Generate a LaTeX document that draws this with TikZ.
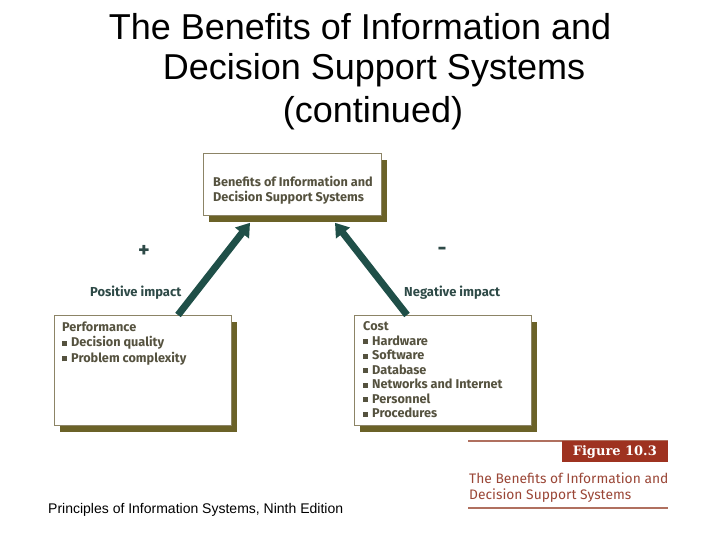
\documentclass[tikz,border=0pt]{standalone}
\usepackage{fontspec}
\setmainfont{Liberation Sans}
\newfontfamily\boxfont{Fira Sans}
\newfontfamily\figfont{DejaVu Serif}
\usetikzlibrary{arrows.meta,shadows,calc}
\definecolor{olivesh}{HTML}{6B6228}
\definecolor{boxline}{HTML}{8C8466}
\definecolor{boxtxt}{HTML}{55523F}
\definecolor{teal}{HTML}{1F4F48}
\definecolor{tealtxt}{HTML}{2E4A47}
\definecolor{figred}{HTML}{9E3220}
\definecolor{figtxt}{HTML}{9A4636}
\definecolor{figline}{HTML}{B0705F}
\newcommand\mybsq{\rule[1pt]{5pt}{5pt}\hspace{4pt}}
\begin{document}
\begin{tikzpicture}[x=1pt,y=-1pt,
  panel/.style={draw=boxline, line width=0.8pt, fill=white, anchor=north west,
    inner sep=0pt, general shadow={fill=olivesh, shadow xshift=6pt, shadow yshift=-7pt}},
  paneltext/.style={anchor=north west, align=left, inner sep=0pt, font=\boxfont\bfseries\fontsize{12.7}{14.5}\selectfont, text=boxtxt},
  bigarrow/.style={draw=teal, line width=7pt, -{Triangle[length=13pt,width=17pt]}},
  impact/.style={font=\boxfont\bfseries\fontsize{13}{15}\selectfont, text=tealtxt, inner sep=0pt},
  sign/.style={font=\boxfont\bfseries\fontsize{22}{22}\selectfont, text=tealtxt, inner sep=0pt},
  titletxt/.style={font=\fontsize{36}{40}\selectfont, inner sep=0pt}
]
\useasboundingbox (0,0) rectangle (720,540);
% title
\node[titletxt] (t1) at (360,27) {The Benefits of Information and};
\node[titletxt] (t2) at (374,70) {Decision Support Systems};
\node[titletxt] (t3) at (373,113) {(continued)};
% boxes
\node[panel, minimum width=178pt, minimum height=62pt] (tbox) at (203,153) {};
\node[panel, minimum width=177pt, minimum height=110pt] (lbox) at (54,315) {};
\node[panel, minimum width=177pt, minimum height=110pt] (rbox) at (354,315) {};
% box texts
\node[paneltext] (ttxt) at (213,176.5) {Benefits of Information and\\Decision Support Systems};
\node[paneltext, font=\boxfont\bfseries\fontsize{12.7}{15.5}\selectfont] (ltxt) at (62,321.5) {Performance\\\mybsq Decision quality\\\mybsq Problem complexity};
\node[paneltext] (rtxt) at (363,321.5) {Cost\\\mybsq Hardware\\\mybsq Software\\\mybsq Database\\\mybsq Networks and Internet\\\mybsq Personnel\\\mybsq Procedures};
% arrows
\coordinate (la) at ([xshift=124pt]lbox.north west);
\coordinate (lb) at ([xshift=47pt,yshift=-7pt]tbox.south west);
\coordinate (ra) at ([xshift=53pt]rbox.north west);
\coordinate (rb) at ([xshift=132pt,yshift=-7pt]tbox.south west);
\draw[bigarrow] (la) -- (lb);
\draw[bigarrow] (ra) -- (rb);
% labels
\node[sign] (plus) at (144,251) {+};
\node[sign] (minus) at (442,251) {-};
\node[impact, anchor=west] (pos) at (90,293) {Positive impact};
\node[impact, anchor=west] (neg) at (404,293) {Negative impact};
% figure caption
\coordinate (c1) at (468,441);
\coordinate (c2) at (668,441);
\draw[figline, line width=1.2pt] (c1) -- (c2);
\node[fill=figred, anchor=north east, minimum width=106pt, minimum height=21pt, inner sep=0pt,
  text=white, font=\figfont\bfseries\fontsize{13}{15}\selectfont] (fig) at (c2) {Figure 10.3};
\node[anchor=north west, align=left, inner sep=0pt, text=figtxt,
  font=\boxfont\fontsize{13.8}{16}\selectfont] (cap) at (469,472.5) {The Benefits of Information and\\Decision Support Systems};
\coordinate (c3) at (468,508);
\coordinate (c4) at (668,508);
\draw[figline, line width=1.2pt] (c3) -- (c4);
% footer
\node[anchor=west, inner sep=0pt, font=\fontsize{14}{16}\selectfont] (foot) at (48,510) {Principles of Information Systems, Ninth Edition};
\end{tikzpicture}
\end{document}
